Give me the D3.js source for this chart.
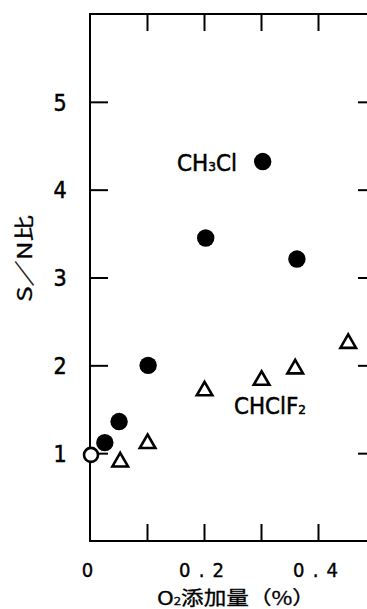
<!DOCTYPE html>
<html><head><meta charset="utf-8">
<script src="https://cdn.jsdelivr.net/npm/d3@7"></script>
<style>
html,body{margin:0;padding:0;background:#fff;}
svg{display:block;}
text{fill:#000;}
</style></head>
<body>
<script>
// ---- data ----
const ch3clX = [0.026, 0.051, 0.102, 0.203, 0.303, 0.363];
const ch3clY = [1.12, 1.36, 2.00, 3.45, 4.32, 3.21];
const chclf2X = [0.053, 0.101, 0.201, 0.301, 0.360, 0.453];
const chclf2Y = [0.90, 1.11, 1.71, 1.83, 1.96, 2.25];
const originX = [0];
const originY = [0.98];
const xTicks = [0, 0.1, 0.2, 0.3, 0.4];
const xTickLabels = ["0", "", "0.2", "", "0.4"];
const yTicks = [1, 2, 3, 4, 5];
const yTickLabels = ["1", "2", "3", "4", "5"];

const W = 367, H = 609;
const svg = d3.select("body").append("svg").attr("width", W).attr("height", H);

const x = d3.scaleLinear().domain([0, 0.5]).range([90, 375]);
const y = d3.scaleLinear().domain([0, 6]).range([541, 14]);

const FONT = "'Liberation Sans Narrow','DejaVu Sans Condensed','Liberation Sans',sans-serif";
const CJK = "'Noto Sans CJK JP','Noto Sans CJK SC',sans-serif";

// frame
svg.append("rect")
  .attr("x", x(0)).attr("y", y(6))
  .attr("width", x(0.5) - x(0)).attr("height", y(0) - y(6))
  .attr("fill", "none").attr("stroke", "#000").attr("stroke-width", 2);

function styleAxis(g) {
  g.select(".domain").remove();
  g.selectAll(".tick line").attr("stroke", "#000").attr("stroke-width", 2);
}

// bottom axis (inward ticks)
const gB = svg.append("g").attr("transform", `translate(0,${y(0)})`)
  .call(d3.axisBottom(x).tickValues(xTicks).tickSize(-17)
    .tickFormat((d, i) => xTickLabels[i]));
styleAxis(gB);
gB.selectAll(".tick").filter(d => d === 0).select("line").remove();
gB.selectAll(".tick text")
  .attr("y", 36).attr("dy", 0).attr("dx", -3)
  .attr("font-family", FONT)
  .attr("font-size", 20)
  .attr("stroke", "#000").attr("stroke-width", 0.4)
  .each(function(d, i) {
    const t = d3.select(this);
    if (xTickLabels[i].length > 1) t.attr("textLength", 45).attr("lengthAdjust", "spacing");
  });

// top axis
const gT = svg.append("g").attr("transform", `translate(0,${y(6)})`)
  .call(d3.axisTop(x).tickValues(xTicks.slice(1)).tickSize(-17).tickFormat(""));
styleAxis(gT);

// left axis
const gL = svg.append("g").attr("transform", `translate(${x(0)},0)`)
  .call(d3.axisLeft(y).tickValues(yTicks).tickSize(-18)
    .tickFormat((d, i) => yTickLabels[i]));
styleAxis(gL);
gL.selectAll(".tick text")
  .attr("x", -30).attr("dy", "0.36em")
  .attr("text-anchor", "middle")
  .attr("font-family", FONT).attr("font-size", 23)
  .attr("stroke", "#000").attr("stroke-width", 0.5);

// right axis
const gR = svg.append("g").attr("transform", `translate(${x(0.5)},0)`)
  .call(d3.axisRight(y).tickValues(yTicks).tickSize(-17).tickFormat(""));
styleAxis(gR);

// CHClF2 triangles
const tri = d3.symbol().type(d3.symbolTriangle).size(105);
svg.append("g").selectAll("path").data(chclf2X).join("path")
  .attr("d", tri)
  .attr("transform", (d, i) => `translate(${x(d)},${y(chclf2Y[i])})`)
  .attr("fill", "#fff").attr("stroke", "#000").attr("stroke-width", 2.6);

// CH3Cl filled circles
svg.append("g").selectAll("circle").data(ch3clX).join("circle")
  .attr("cx", d => x(d)).attr("cy", (d, i) => y(ch3clY[i]))
  .attr("r", 8.7).attr("fill", "#000");

// shared origin point (open)
svg.append("g").selectAll("circle").data(originX).join("circle")
  .attr("cx", d => x(d) + 1).attr("cy", (d, i) => y(originY[i]))
  .attr("r", 7).attr("fill", "#fff").attr("stroke", "#000").attr("stroke-width", 2.6);

// series labels
const l1 = svg.append("text").attr("x", 177).attr("y", 171)
  .attr("font-family", FONT).attr("font-size", 23)
  .attr("stroke", "#000").attr("stroke-width", 0.5)
  .attr("textLength", 60).attr("lengthAdjust", "spacingAndGlyphs");
l1.append("tspan").text("CH");
l1.append("tspan").attr("font-size", 13).attr("dy", 0).text("3");
l1.append("tspan").text("Cl");

const l2 = svg.append("text").attr("x", 234).attr("y", 414)
  .attr("font-family", FONT).attr("font-size", 23)
  .attr("stroke", "#000").attr("stroke-width", 0.5)
  .attr("textLength", 72).attr("lengthAdjust", "spacingAndGlyphs");
l2.append("tspan").text("CHClF");
l2.append("tspan").attr("font-size", 13).attr("dy", 0).text("2");

// axis titles
const xt = svg.append("text").attr("x", 157).attr("y", 605)
  .attr("font-family", CJK).attr("font-size", 19)
  .attr("stroke", "#000").attr("stroke-width", 0.3)
  .attr("textLength", 158).attr("lengthAdjust", "spacingAndGlyphs");
xt.append("tspan").text("O");
xt.append("tspan").attr("font-size", 11).attr("dy", 0).text("2");
xt.append("tspan").text("添加量（%）");

svg.append("text")
  .attr("transform", "translate(32,258.5) rotate(-90)")
  .attr("text-anchor", "middle")
  .attr("font-family", CJK).attr("font-size", 20)
  .attr("stroke", "#000").attr("stroke-width", 0.3)
  .attr("textLength", 87).attr("lengthAdjust", "spacingAndGlyphs")
  .text("S／N比");
</script>
</body></html>
